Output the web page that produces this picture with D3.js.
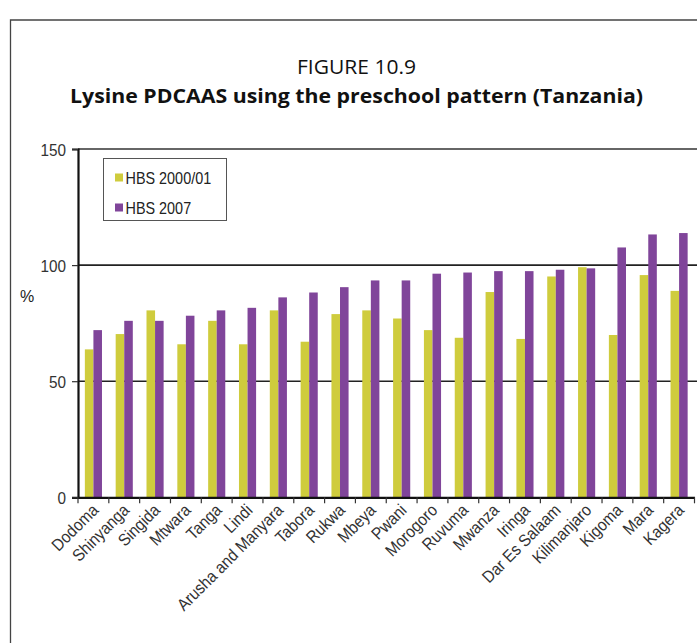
<!DOCTYPE html>
<html><head><meta charset="utf-8">
<script src="https://cdn.jsdelivr.net/npm/d3@7/dist/d3.min.js"></script>
<style>
html,body{margin:0;padding:0;background:#fff;}
svg{display:block;}
.narrow{font-family:"Liberation Sans",Arial,sans-serif;}
</style></head>
<body>
<svg id="chart" width="697" height="643"></svg>
<script>
const categories = ["Dodoma","Shinyanga","Singida","Mtwara","Tanga","Lindi","Arusha and Manyara","Tabora","Rukwa","Mbeya","Pwani","Morogoro","Ruvuma","Mwanza","Iringa","Dar Es Salaam","Kilimanjaro","Kigoma","Mara","Kagera"];
const hbs2000 = [63.7,70.3,80.5,65.9,76.0,65.9,80.5,67.0,78.9,80.5,77.0,72.0,68.7,88.4,68.2,95.1,99.1,69.9,95.7,88.9];
const hbs2007 = [72.0,76.0,76.0,78.2,80.5,81.6,86.1,88.2,90.5,93.4,93.4,96.3,96.8,97.4,97.4,98.0,98.6,107.6,113.2,113.8];
const seriesNames = ["HBS 2000/01","HBS 2007"];
const seriesColors = ["#cfcc3d","#80459a"];
const yTicks = [0,50,100,150];

const SX = 0.9; // horizontal compression to imitate a narrow face
const svg = d3.select("#chart");

// frame
svg.append("path").attr("d","M10.5,643 L10.5,20 L697,20").attr("fill","none").attr("stroke","#444").attr("stroke-width",1.3);

// titles
svg.append("text").attr("x",356.5).attr("y",74).attr("text-anchor","middle")
  .attr("textLength",119).attr("lengthAdjust","spacingAndGlyphs")
  .style("font-family","'Open Sans',sans-serif").style("font-size","19.5px").attr("fill","#111").text("FIGURE 10.9");
svg.append("text").attr("x",356.5).attr("y",103).attr("text-anchor","middle")
  .attr("textLength",573).attr("lengthAdjust","spacingAndGlyphs")
  .style("font-family","'Open Sans',sans-serif").style("font-size","20px").style("font-weight","bold").attr("fill","#111")
  .text("Lysine PDCAAS using the preschool pattern (Tanzania)");

const x = d3.scaleBand().domain(categories).range([78,694.5]).padding(0);
const sub = d3.scaleBand().domain(seriesNames).range([0,x.bandwidth()]).paddingInner(0).paddingOuter(0.8);
const y = d3.scaleLinear().domain([0,150]).range([497.3,149]);

// grid lines
svg.append("g").selectAll("line").data(yTicks.filter(d=>d>0)).join("line")
  .attr("x1",78).attr("x2",697).attr("y1",d=>y(d)).attr("y2",d=>y(d))
  .attr("stroke",d=>d===150?"#666":"#222").attr("stroke-width",d=>d===150?2:1.6);

// bars
const data = categories.map((c,i)=>({cat:c, vals:[hbs2000[i],hbs2007[i]]}));
const g = svg.append("g");
const grp = g.selectAll("g").data(data).join("g").attr("transform",d=>`translate(${x(d.cat)},0)`);
grp.selectAll("rect").data(d=>d.vals.map((v,j)=>({v,j}))).join("rect")
  .attr("x",d=>sub(seriesNames[d.j])).attr("width",sub.bandwidth())
  .attr("y",d=>y(d.v)).attr("height",d=>y(0)-y(d.v))
  .attr("fill",d=>seriesColors[d.j]);

// y axis
const yAxis = d3.axisLeft(y).tickValues(yTicks).tickSize(6);
const ya = svg.append("g").attr("transform","translate(78,0)").call(yAxis);
ya.select(".domain").attr("stroke","#111").attr("stroke-width",2.2);
ya.selectAll(".tick line").attr("stroke","#333").attr("stroke-width",1.2);
ya.selectAll(".tick text").attr("class","narrow").style("font-size","17px").attr("fill","#333")
  .attr("x",-12/SX).attr("dy","0.36em").attr("transform",`scale(${SX},1)`);

// x axis
const xAxis = d3.axisBottom(x).tickSize(0).tickFormat("");
const xa = svg.append("g").attr("transform",`translate(0,${y(0)})`).call(xAxis);
xa.select(".domain").attr("stroke","#111").attr("stroke-width",2.2);
const bounds = categories.map(c=>x(c)).concat([x.range()[1]]);
svg.append("g").selectAll("line").data(bounds).join("line")
  .attr("x1",d=>d).attr("x2",d=>d).attr("y1",y(0)).attr("y2",y(0)+6)
  .attr("stroke","#333").attr("stroke-width",1.2);

// x labels
svg.append("g").selectAll("text").data(categories).join("text")
  .attr("class","narrow").style("font-size","17px").attr("fill","#333")
  .attr("text-anchor","end")
  .attr("transform",d=>`translate(${x(d)+x.bandwidth()/2+6},${y(0)+14}) rotate(-45) scale(${SX},1)`)
  .text(d=>d);

// y label
svg.append("text").attr("class","narrow").attr("x",27).attr("y",302).attr("text-anchor","middle")
  .style("font-size","16px").attr("fill","#222").text("%");

// legend
const lg = svg.append("g");
lg.append("rect").attr("x",103.5).attr("y",158.5).attr("width",123).attr("height",62)
  .attr("fill","#fff").attr("stroke","#555").attr("stroke-width",1);
seriesNames.forEach((s,i)=>{
  lg.append("rect").attr("x",115).attr("y",173.5+i*30).attr("width",8).attr("height",8).attr("fill",seriesColors[i]);
  lg.append("text").attr("class","narrow").attr("transform",`translate(125.5,${184+i*30}) scale(${SX},1)`)
    .style("font-size","16px").attr("fill","#222").text(s);
});
</script>
</body></html>
